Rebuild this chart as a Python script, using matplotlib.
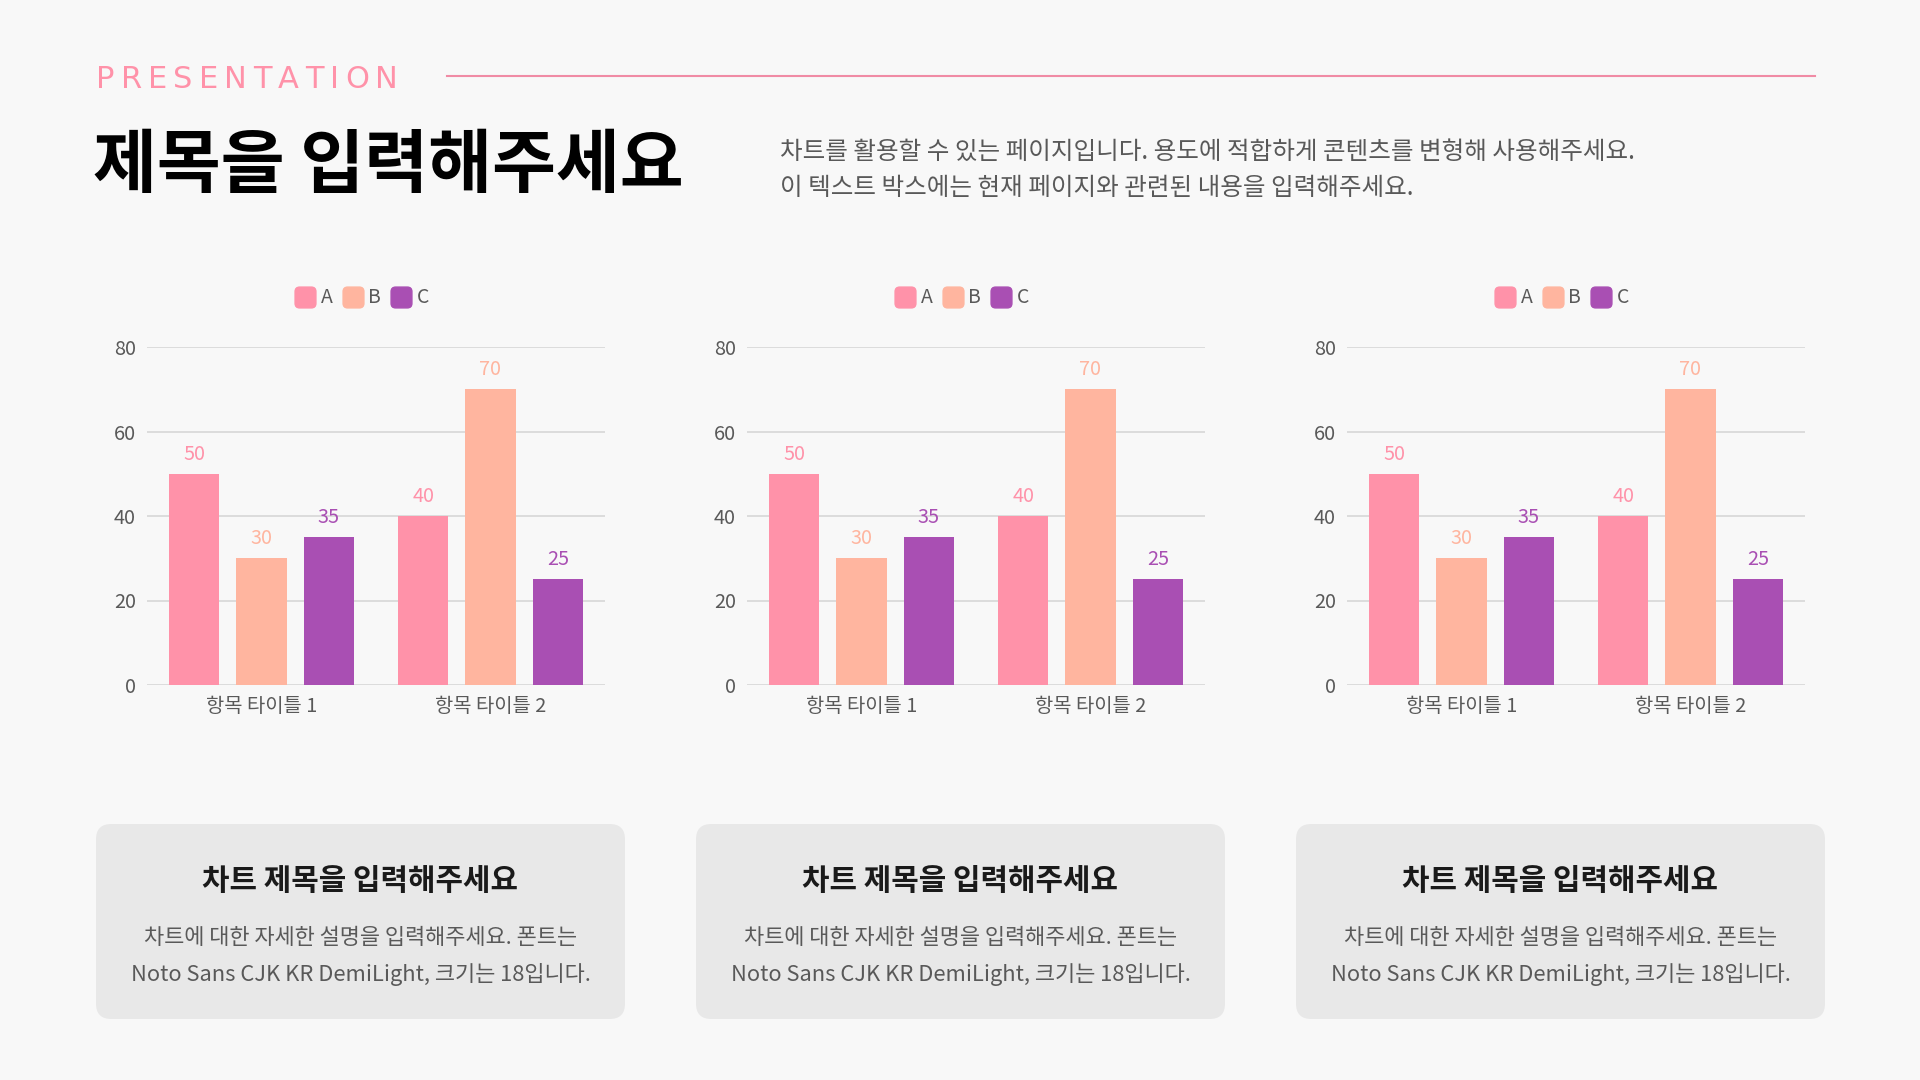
import matplotlib
matplotlib.use('Agg')
import matplotlib.pyplot as plt
from matplotlib.patches import FancyBboxPatch
from matplotlib.lines import Line2D
import numpy as np

plt.rcParams['font.family'] = ['Noto Sans CJK KR', 'DejaVu Sans']

# 데이터
categories = ['항목 타이틀 1', '항목 타이틀 2']
series_names = ['A', 'B', 'C']
values_a = [50, 40]
values_b = [30, 70]
values_c = [35, 25]
y_ticks = [0, 20, 40, 60, 80]

colors = ['#FF92A9', '#FFB59F', '#A94FB3']
bg = '#F8F8F8'
gray_text = '#595959'

W, H = 1920, 1080
fig = plt.figure(figsize=(19.2, 10.8), dpi=100, facecolor=bg)
renderer = fig.canvas.get_renderer()


def fx(x):
    return x / W


def fy(y):
    return 1 - y / H


# 상단 헤더 (자간 넓게, 전체 폭 맞춤)
header = 'PRESENTATION'
letters = [fig.text(0, fy(79), ch, color='#FF92A9', fontsize=22, ha='left', va='center',
                    family=['Liberation Sans Narrow', 'DejaVu Sans']) for ch in header]
widths = [t.get_window_extent(renderer).width for t in letters]
gap = (302 - sum(widths)) / (len(header) - 1)
cur = 96
for t, w in zip(letters, widths):
    t.set_x(fx(cur))
    cur += w + gap
fig.add_artist(Line2D([fx(447), fx(1815)], [fy(76), fy(76)], color='#F08BA5', lw=1.5))

fig.text(fx(93), fy(167), '제목을 입력해주세요', fontsize=50, fontweight='bold',
         color='#000000', ha='left', va='center')
fig.text(fx(780), fy(152), '차트를 활용할 수 있는 페이지입니다. 용도에 적합하게 콘텐츠를 변형해 사용해주세요.',
         fontsize=17.7, color=gray_text, ha='left', va='center')
fig.text(fx(780), fy(188), '이 텍스트 박스에는 현재 페이지와 관련된 내용을 입력해주세요.',
         fontsize=17.7, color=gray_text, ha='left', va='center')

# 둥근 사각형 마커
rr = FancyBboxPatch((-0.5, -0.5), 1, 1, boxstyle='round,pad=0,rounding_size=0.22')
rmarker = rr.get_path()

series = [values_a, values_b, values_c]
x = np.arange(len(categories))
offsets = [-0.294, 0, 0.294]
bar_w = 0.22

for p in range(3):
    dx = p * 600
    ax = fig.add_axes([fx(147 + dx), fy(685), 458 / W, 338 / H])
    ax.set_facecolor(bg)
    for s, vals in enumerate(series):
        bars = ax.bar(x + offsets[s], vals, width=bar_w, color=colors[s], zorder=3)
        for b, v in zip(bars, vals):
            ax.annotate(str(v), (b.get_x() + b.get_width() / 2, v), xytext=(0, 14),
                        textcoords='offset points', ha='center', va='center',
                        color=colors[s], fontsize=14.3)
    ax.set_xlim(-0.5, 1.5)
    ax.set_ylim(0, 80)
    ax.set_yticks(y_ticks)
    ax.set_xticks(x)
    ax.set_xticklabels(categories)
    ax.tick_params(axis='both', length=0, labelsize=14.3, labelcolor=gray_text)
    ax.tick_params(axis='y', pad=8)
    ax.tick_params(axis='x', pad=8)
    ax.grid(axis='y', color='#D9D9D9', lw=1.3, zorder=0)
    for sp in ax.spines.values():
        sp.set_visible(False)
    handles = [Line2D([], [], marker=rmarker, linestyle='', markersize=15,
                      markerfacecolor=c, markeredgecolor=c) for c in colors]
    leg = ax.legend(handles, series_names, loc='center', bbox_to_anchor=(0.47, 1.145),
                    ncol=3, frameon=False, fontsize=14, handletextpad=0.3,
                    columnspacing=0.55, handlelength=1.0)
    for t in leg.get_texts():
        t.set_color(gray_text)

    # 하단 설명 박스
    box = FancyBboxPatch((fx(96 + dx), fy(1019)), 529 / W, 195 / H,
                         boxstyle='round,pad=0,rounding_size=0.008',
                         transform=fig.transFigure, facecolor='#E8E8E8',
                         edgecolor='none', mutation_aspect=W / H)
    fig.add_artist(box)
    cx = fx(360.5 + dx)
    fig.text(cx, fy(881), '차트 제목을 입력해주세요', fontsize=21.5, fontweight='bold',
             color='#1A1A1A', ha='center', va='center')
    fig.text(cx, fy(938), '차트에 대한 자세한 설명을 입력해주세요. 폰트는',
             fontsize=15.8, color=gray_text, ha='center', va='center')
    fig.text(cx, fy(974), 'Noto Sans CJK KR DemiLight, 크기는 18입니다.',
             fontsize=15.8, color=gray_text, ha='center', va='center')

fig.savefig('out.png', dpi=100, facecolor=bg)
